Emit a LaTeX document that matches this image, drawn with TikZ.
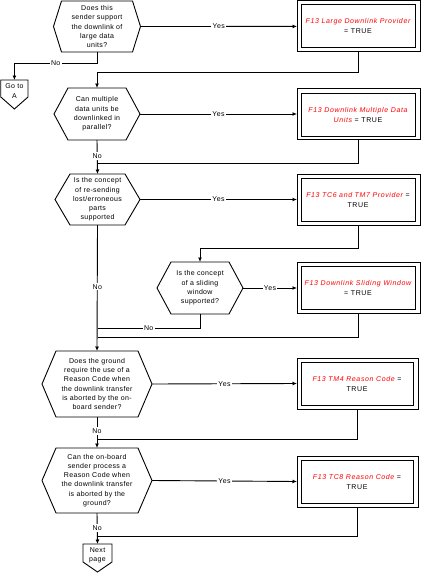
\documentclass[tikz,border=0pt]{standalone}
\usepackage{fontspec}
\setmainfont{Liberation Sans}[LetterSpace=5]
\newfontfamily\boxfont{Liberation Sans}[LetterSpace=9]
\usetikzlibrary{arrows.meta,calc}
\definecolor{fred}{RGB}{255,0,0}
\tikzset{
  ln/.style={draw, line width=0.9pt},
  arr/.style={ln, -{Latex[length=4.5pt,width=4pt]}},
  qtxt/.style={align=center, font=\fontsize{7}{9.3}\selectfont, inner sep=0pt, outer sep=0pt},
  lbl/.style={fill=white, font=\fontsize{7}{8}\selectfont, inner sep=1.2pt},
  obox/.style={ln, minimum width=123pt, minimum height=51pt, inner sep=0pt, outer sep=0pt},
  ibox/.style={ln, minimum width=114pt, minimum height=43pt, align=center, font=\boxfont\fontsize{7}{10}\selectfont, inner sep=0pt},
}
\newcommand{\hexnode}[7]{%
  \node[qtxt, minimum width=#4, minimum height=#5] (#1) at (#2,#3) {#7};
  \draw[ln] (#1.west) -- ($(#1.north west)+(#6,0)$) -- ($(#1.north east)+(-#6,0)$) -- (#1.east) -- ($(#1.south east)+(-#6,0)$) -- ($(#1.south west)+(#6,0)$) -- cycle;
}
\newcommand{\redt}[1]{{\color{fred}\itshape #1}}
\begin{document}
\begin{tikzpicture}[x=1pt,y=-1pt]
\useasboundingbox (0,0) rectangle (422,573);
% questions
\hexnode{q1}{97}{26.5}{87pt}{51pt}{8}{Does this\\sender support\\the downlink of\\large data\\units?}
\hexnode{q2}{97}{114}{86pt}{52pt}{14}{Can multiple\\data units be\\downlinked in\\parallel?}
\hexnode{q3}{97.5}{199.5}{85pt}{51pt}{15}{Is the concept\\of re-sending\\lost/erroneous\\parts\\supported}
\hexnode{q4}{200}{288}{86pt}{52pt}{14}{Is the concept\\of a sliding\\window\\supported?}
\hexnode{q5}{97}{384}{110pt}{66pt}{14}{Does the ground\\require the use of a\\Reason Code when\\the downlink transfer\\is aborted by the on-\\board sender?}
\hexnode{q6}{97}{480.5}{110pt}{65pt}{14}{Can the on-board\\sender process a\\Reason Code when\\the downlink transfer\\is aborted by the\\ground?}
% result boxes
\node[obox] (b1) at (358.5,26.4) {};
\node[ibox] (t1) at (358,25.5) {\redt{F13 Large Downlink Provider}\\= TRUE};
\node[obox] (b2) at (358.5,114) {};
\node[ibox] (t2) at (358,114.5) {\redt{F13 Downlink Multiple Data}\\\redt{Units} = TRUE};
\node[obox] (b3) at (358.5,199.5) {};
\node[ibox] (t3) at (358,199.5) {\redt{F13 TC6 and TM7 Provider} =\\TRUE};
\node[obox] (b4) at (358.5,288) {};
\node[ibox] (t4) at (358,288) {\redt{F13 Downlink Sliding Window}\\= TRUE};
\node[obox, minimum width=121pt] (b5) at (357.5,383.5) {};
\node[ibox, minimum width=112pt] (t5) at (357,383.5) {\redt{F13 TM4 Reason Code} =\\TRUE};
\node[obox, minimum width=121pt] (b6) at (357.5,481.5) {};
\node[ibox, minimum width=112pt] (t6) at (357,481.5) {\redt{F13 TC8 Reason Code} =\\TRUE};
% off-page connectors
\node[inner sep=0pt, outer sep=0pt, minimum width=27.2pt, minimum height=17pt] (ga) at (14.4,88.5) {};
\draw[ln] (ga.north west) -- (ga.north east) -- (ga.south east) -- ($(ga.south)+(0,12)$) -- (ga.south west) -- cycle;
\node[qtxt, font=\fontsize{7}{10}\selectfont] (gat) at (14.4,91) {Go to\\A};
\node[inner sep=0pt, outer sep=0pt, minimum width=29pt, minimum height=18pt] (np) at (97.5,553) {};
\draw[ln] (np.north west) -- (np.north east) -- (np.south east) -- ($(np.south)+(0,10)$) -- (np.south west) -- cycle;
\node[qtxt, font=\fontsize{7}{9}\selectfont] (npt) at (97.5,555) {Next\\page};
% yes connectors
\foreach \i in {1,...,6}{
  \draw[arr] (q\i.east) -- node[lbl] {Yes} (b\i.west);
}
% junction coordinates
\path (q2.south) ++(0,23) coordinate (j2);
\path (q3.south) ++(0,103) coordinate (j4);
\path (q3.south) ++(0,112) coordinate (j4b);
\path (q5.south) ++(0,22) coordinate (j5);
\path (q6.south) ++(0,23) coordinate (j6);
% no connectors and returns
\draw[arr] (q1.south) -- ++(0,11) -| node[lbl, pos=0.25] {No} (ga.north);
\draw[arr] (b1.south) -- ++(0,21) -| (q2.north);
\draw[arr] (q2.south) -- node[lbl, pos=0.47] {No} (q3.north);
\draw[ln] (b2.south) |- (j2);
\draw[arr] (b3.south) -- ++(0,23) -| (q4.north);
\draw[arr] (q3.south) -- node[lbl, pos=0.49] {No} (q5.north);
\draw[ln] (q4.south) |- node[lbl, pos=0.75] {No} (j4);
\draw[ln] (b4.south) |- (j4b);
\draw[arr] (q5.south) -- node[lbl, pos=0.45] {No} (q6.north);
\draw[ln] (b5.south) |- (j5);
\draw[arr] (q6.south) -- node[lbl, pos=0.48] {No} (np.north);
\draw[ln] (b6.south) |- (j6);
\end{tikzpicture}
\end{document}
